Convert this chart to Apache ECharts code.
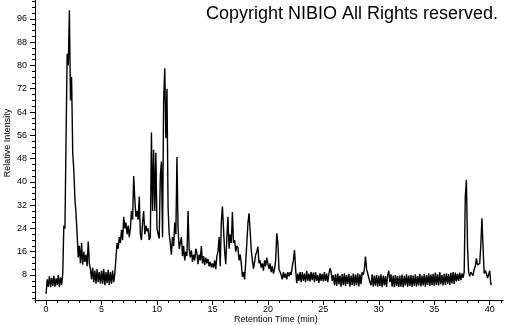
<!DOCTYPE html>
<html><head><meta charset="utf-8">
<script src="https://cdn.jsdelivr.net/npm/echarts@6/dist/echarts.min.js"></script>
<style>html,body{margin:0;padding:0;background:#fff}#c{width:505px;height:325px}</style>
</head><body><div id="c"></div>
<script>
const titleText = 'Copyright NIBIO All Rights reserved.';
const xName = 'Retention Time (min)';
const yName = 'Relative Intensity';
const sampleStart = 0;    // min
const sampleStep = 0.1;   // min
const intensity = [
  1.5, 6.5, 4.0, 7.5, 3.8, 7.0, 4.2, 7.8, 4.0, 6.8,
  4.5, 8.0, 3.8, 7.2, 4.6, 8.2, 25, 24, 55, 84,
  80, 99, 68, 76, 50, 44, 34, 29, 22, 14,
  18, 12, 19, 11.5, 16, 12.5, 15, 11, 19.5, 12,
  10, 6.5, 10.5, 5.5, 9.5, 5, 10, 5.5, 9, 5,
  9.5, 5, 10, 4.5, 9, 5.2, 9.8, 4.6, 9, 5,
  9.5, 5.5, 8.5, 14, 19, 17, 21, 19, 23.5, 20,
  28, 24, 26, 22, 25, 21, 24, 30, 27, 42,
  34, 28, 30, 27, 35, 22, 20, 26, 30, 22,
  25, 23, 24, 20, 21, 57, 30, 51, 30, 50,
  24, 22, 20.5, 42, 47, 21, 68, 79, 55, 72,
  31, 22, 19, 15, 21, 18, 26, 22, 48.5, 24,
  17, 19, 21, 14.5, 18, 13, 16, 14.5, 30, 17,
  14, 16.5, 12.5, 15, 13, 17, 15.5, 11.7, 15, 13,
  17.9, 12, 14.5, 11.5, 14, 12, 13.5, 11, 12.5, 10.6,
  12, 10.5, 13, 10, 14.5, 16, 21, 11, 26, 31.5,
  24, 16, 11.7, 21, 28, 17, 22, 19, 29.6, 19,
  20, 16, 18, 17.3, 13, 15, 12, 7.4, 9, 6.5,
  12.5, 19, 25.8, 29.2, 23, 16.6, 13, 10.2, 12.5, 15,
  16, 17.7, 12, 13, 10.5, 12, 9.5, 13, 11, 14,
  14, 10, 12, 9, 11, 8.5, 10, 13, 22.3, 19,
  10, 9, 8, 6.5, 9, 7, 8.5, 6.5, 9, 7.5,
  9, 8, 11, 13, 16.6, 10, 5.2, 8.5, 6, 9,
  5.5, 9, 6, 8.5, 5.5, 9.4, 6, 8.5, 5.8, 9,
  6.2, 8.8, 5.5, 9, 6, 8, 5.3, 8.6, 6, 8.4,
  5.8, 9, 6, 8.5, 5.5, 8.5, 10.3, 9, 6, 8,
  4.5, 8.2, 4.2, 8.5, 4.8, 7.8, 4, 8.3, 4.5, 8.6,
  4.2, 8, 4.8, 8.4, 4, 7.8, 4.6, 8.5, 4.2, 8.1,
  4.5, 8.6, 4.1, 8.2, 4.8, 9, 8, 10, 14.3, 10,
  8.5, 8, 5.5, 4.5, 8.2, 4, 7.8, 4.3, 8, 4,
  7.8, 4.2, 8.2, 3.8, 7.8, 4.4, 7.6, 3.9, 8, 9.5,
  5.5, 8.2, 4, 7.8, 3.8, 8, 4.2, 7.6, 3.9, 7.8,
  4, 8.1, 3.8, 7.7, 4.4, 8.2, 4, 7.8, 4.2, 8,
  3.9, 7.8, 4.3, 8.2, 4, 7.6, 4.4, 8.4, 4.1, 7.8,
  4.4, 8.3, 4, 8, 4.6, 8.6, 4.2, 8.1, 4.6, 8.4,
  4.3, 8.8, 4.6, 8.2, 4.4, 9, 4.8, 8, 4.4, 8.4,
  4.6, 8.6, 4.9, 8.3, 4.6, 8.7, 5.1, 9, 4.9, 8.8,
  5.8, 8.4, 6, 8.8, 6.2, 8.5, 7, 9, 35, 40.7,
  17.7, 9, 7.5, 9, 8.5, 7.8, 10, 11, 13.7, 11.5,
  12, 12, 18.3, 27.5, 17.7, 8.5, 9.5, 8.5, 7, 8,
  9.5, 4.8, 4.8
];
const xMajorTicks = [0, 5, 10, 15, 20, 25, 30, 35, 40];
const xMinorTicks = [-1,0,1,2,3,4,5,6,7,8,9,10,11,12,13,14,15,16,17,18,19,20,21,22,23,24,25,26,27,28,29,30,31,32,33,34,35,36,37,38,39,40,41];
const yMajorTicks = [8, 16, 24, 32, 40, 48, 56, 64, 72, 80, 88, 96];
const yMinorTicks = [0,2,4,6,8,10,12,14,16,18,20,22,24,26,28,30,32,34,36,38,40,42,44,46,48,50,52,54,56,58,60,62,64,66,68,70,72,74,76,78,80,82,84,86,88,90,92,94,96,98,100,102];

const X_MIN = -1, X_MAX = 41.2, Y_MIN = -0.6, Y_MAX = 102.5;
const points = intensity.map((v, i) => [+(sampleStart + i * sampleStep).toFixed(2), v]);
const FONT = "'Liberation Sans Narrow','Liberation Sans',Arial,sans-serif";

const chart = echarts.init(document.getElementById('c'), null, {renderer: 'canvas'});
chart.setOption({
  animation: false,
  backgroundColor: '#fff',
  grid: {left: 35, right: 2, top: 0, bottom: 25, containLabel: false},
  xAxis: [
    {type: 'value', position: 'bottom', min: X_MIN, max: X_MAX,
     axisLine: {show: true, onZero: false, lineStyle: {color: '#000', width: 1}},
     axisTick: {show: true, customValues: xMajorTicks, length: 5, lineStyle: {color: '#000'}},
     axisLabel: {show: true, customValues: xMajorTicks, color: '#000', fontSize: 9, fontFamily: FONT, margin: 5},
     splitLine: {show: false}},
    {type: 'value', position: 'bottom', min: X_MIN, max: X_MAX,
     axisLine: {show: false, onZero: false},
     axisTick: {show: true, customValues: xMinorTicks, length: 3, lineStyle: {color: '#000'}},
     axisLabel: {show: false}, splitLine: {show: false}}
  ],
  yAxis: [
    {type: 'value', position: 'left', min: Y_MIN, max: Y_MAX,
     axisLine: {show: true, onZero: false, lineStyle: {color: '#000', width: 1}},
     axisTick: {show: true, customValues: yMajorTicks, length: 5, lineStyle: {color: '#000'}},
     axisLabel: {show: true, customValues: yMajorTicks, color: '#000', fontSize: 9, fontFamily: FONT, margin: 8},
     splitLine: {show: false}},
    {type: 'value', position: 'left', min: Y_MIN, max: Y_MAX,
     axisLine: {show: false, onZero: false},
     axisTick: {show: true, customValues: yMinorTicks, length: 3, lineStyle: {color: '#000'}},
     axisLabel: {show: false}, splitLine: {show: false}}
  ],
  series: [{
    type: 'line', xAxisIndex: 0, yAxisIndex: 0, data: points,
    showSymbol: false, symbol: 'none', smooth: false,
    lineStyle: {color: '#000', width: 1.4}
  }],
  graphic: [
    {type: 'text', right: 7, top: 5, style: {text: titleText, fill: '#000', font: "18px 'Liberation Sans', Arial, sans-serif"}},
    {type: 'text', left: 234, top: 315, style: {text: xName, fill: '#000', font: "9px " + FONT}},
    {type: 'text', x: 8, y: 143, rotation: Math.PI / 2, style: {text: yName, fill: '#000', font: "9px " + FONT, textAlign: 'center', textVerticalAlign: 'middle'}}
  ]
});
</script></body></html>
